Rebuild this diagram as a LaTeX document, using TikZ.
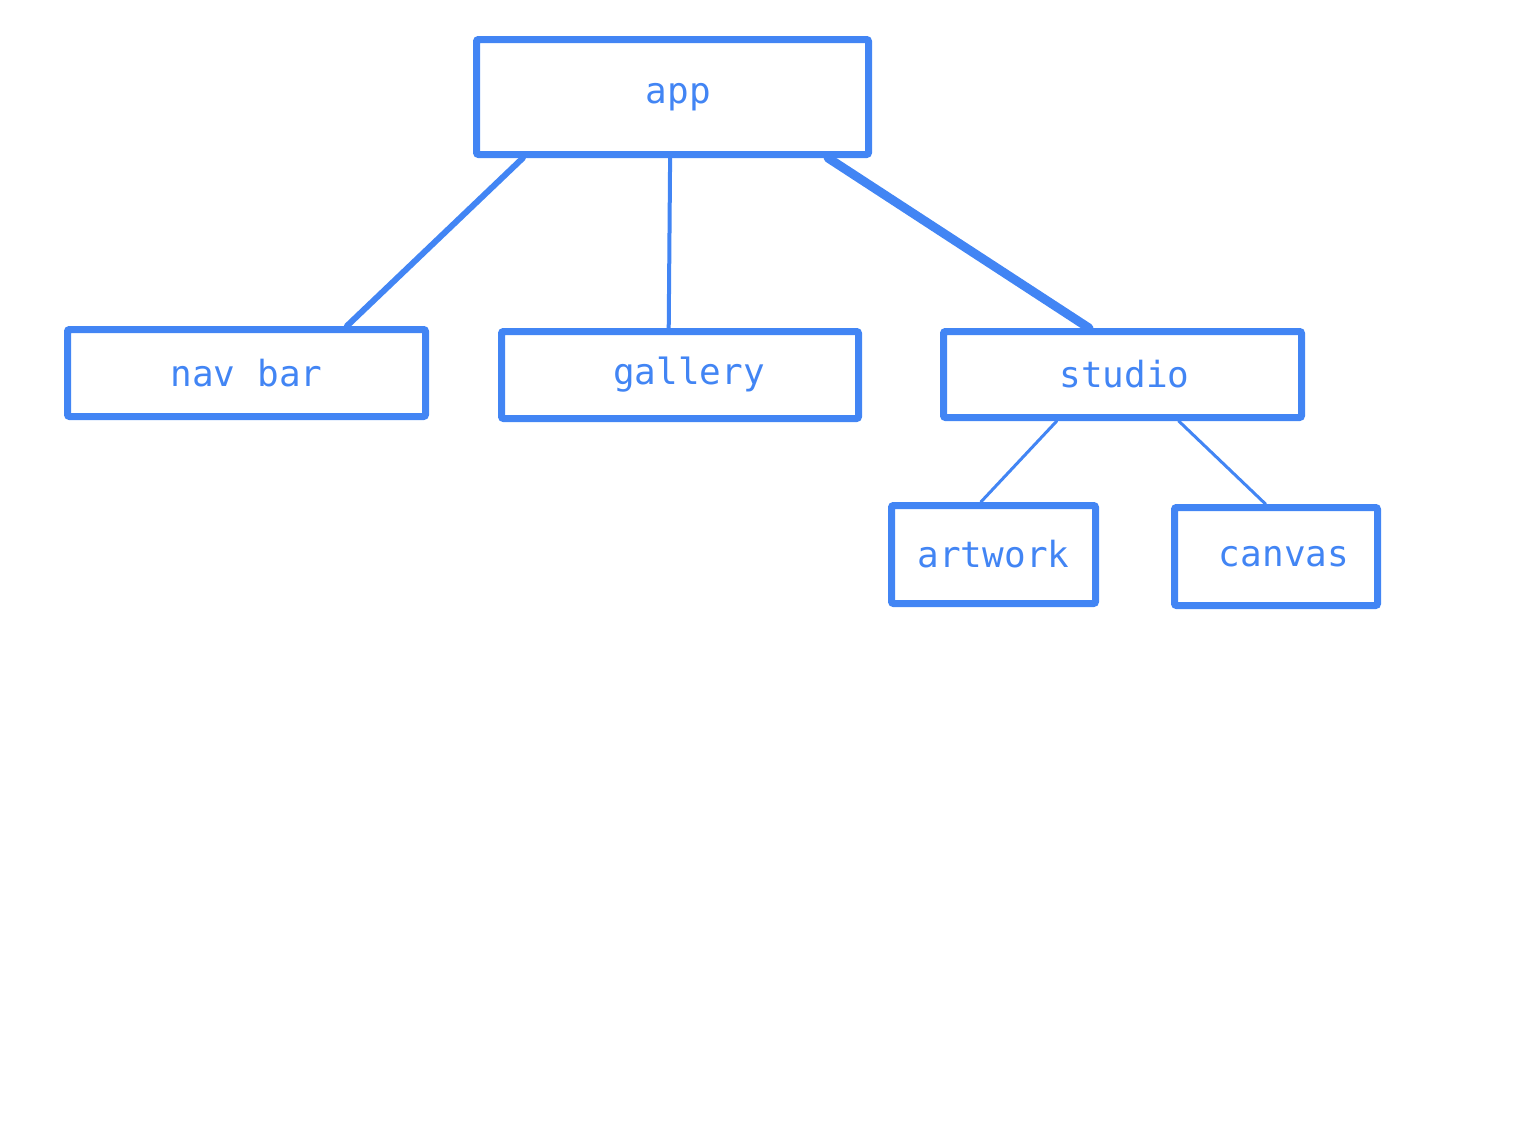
\documentclass[tikz,border=0pt]{standalone}
\usepackage{fontspec}
\setmonofont{DejaVu Sans Mono}
\usetikzlibrary{calc}
\definecolor{gblue}{HTML}{4285F4}

\begin{document}
\begin{tikzpicture}[x=0.5pt, y=-0.5pt,
  box/.style={draw=gblue, line width=3.5pt, rounded corners=1pt, text=gblue,
    font=\ttfamily\fontsize{18}{20}\selectfont, inner sep=0pt},
  link/.style={draw=gblue, line cap=round}]
\useasboundingbox (0,0) rectangle (1520,1140);

\node[box, minimum width=196pt, minimum height=57.5pt] (app) at (672.5,97) {\hspace{6pt}app};
\node[box, minimum width=179pt, minimum height=43.5pt] (nav) at (246.5,373) {nav bar};
\node[box, minimum width=178.5pt, minimum height=43.5pt] (gal) at (680,375) {\hspace{9pt}gallery};
\node[box, minimum width=179pt, minimum height=43pt] (stu) at (1122.5,374.5) {\hspace{2pt}studio};
\node[box, minimum width=102pt, minimum height=49pt] (art) at (993.5,554.5) {artwork};
\node[box, minimum width=101.5pt, minimum height=49pt] (can) at (1276,556.5) {\hspace{8pt}canvas};

\path[link]
($(app.south west)!0.125!(app.south east)$) edge[line width=3pt] ($(nav.north west)!0.775!(nav.north east)$)
($(app.south west)!0.494!(app.south east)$) edge[line width=2pt] ($(gal.north west)!0.469!(gal.north east)$)
($(app.south west)!0.89!(app.south east)$) edge[line width=4.5pt] ($(stu.north west)!0.408!(stu.north east)$)
($(stu.south west)!0.32!(stu.south east)$) edge[line width=1.5pt] ($(art.north west)!0.44!(art.north east)$)
($(stu.south west)!0.654!(stu.south east)$) edge[line width=1.5pt] ($(can.north west)!0.45!(can.north east)$)
;
\end{tikzpicture}
\end{document}
